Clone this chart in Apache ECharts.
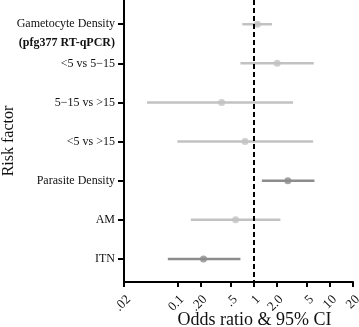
<!DOCTYPE html>
<html>
<head>
<meta charset="utf-8">
<script src="https://cdn.jsdelivr.net/npm/echarts@6/dist/echarts.min.js"></script>
<style>
  html, body { margin: 0; padding: 0; background: #fff; }
  #chart { width: 359px; height: 327px; }
</style>
</head>
<body>
<div id="chart"></div>
<script>
// rows, top to bottom
const categories = ['Gametocyte Density', '<5 vs 5\u221215', '5\u221215 vs >15', '<5 vs >15', 'Parasite Density', 'AM', 'ITN'];
const subLabel = '(pfg377 RT-qPCR)';
const oddsRatio = [1.12, 2.03, 0.38, 0.77, 2.80, 0.58, 0.22];
const ciLow = [0.71, 0.67, 0.04, 0.10, 1.28, 0.15, 0.075];
const ciHigh = [1.74, 6.12, 3.28, 6.0, 6.25, 2.24, 0.67];
const rowShade = ['light', 'light', 'light', 'light', 'dark', 'light', 'dark'];

const xTicks = [0.02, 0.1, 0.2, 0.5, 1, 2, 5, 10, 20];
const xTickLabels = ['.02', '0.1', '.20', '.5', '1', '2.0', '5', '10', '20'];

const shadeColor = { light: '#c2c2c2', dark: '#8c8c8c' };
const font = 'Liberation Serif';

const rowIdx = categories.map((_, i) => i);
const SUB_POS = 0.486; // second line of first row label

const chart = echarts.init(document.getElementById('chart'));

const ciData = rowIdx.map(i => ({
  value: [i, ciLow[i], ciHigh[i]],
  itemStyle: { color: shadeColor[rowShade[i]] }
}));
const pointData = rowIdx.map(i => ({
  value: [oddsRatio[i], i],
  itemStyle: { color: shadeColor[rowShade[i]] }
}));

function xLabel(v) {
  for (let k = 0; k < xTicks.length; k++) {
    if (Math.abs(v - xTicks[k]) / xTicks[k] < 1e-6) return xTickLabels[k];
  }
  return '';
}

const option = {
  animation: false,
  grid: { left: 124, right: 6, top: 0, bottom: 45, containLabel: false, outerBoundsMode: 'none' },
  xAxis: {
    type: 'log',
    logBase: 10,
    min: 0.02,
    max: 20,
    name: 'Odds ratio & 95% CI',
    nameLocation: 'middle',
    nameGap: 29,
    nameMoveOverlap: false,
    nameTextStyle: { fontFamily: font, fontSize: 18, color: '#111', padding: [0, 0, 0, 32] },
    axisLine: { onZero: false, lineStyle: { color: '#000', width: 2 } },
    axisTick: { show: true, length: 5, lineStyle: { color: '#000', width: 2 }, customValues: xTicks },
    axisLabel: {
      customValues: xTicks,
      rotate: 45,
      margin: 11,
      verticalAlign: 'top',
      fontFamily: font,
      fontSize: 13,
      color: '#111',
      formatter: v => xLabel(v)
    },
    splitLine: { show: false }
  },
  yAxis: {
    type: 'value',
    inverse: true,
    min: -0.62,
    max: 6.59,
    name: 'Risk factor',
    nameLocation: 'middle',
    nameGap: 107,
    nameMoveOverlap: false,
    nameTextStyle: { fontFamily: font, fontSize: 16, color: '#111' },
    axisLine: { show: true, onZero: false, lineStyle: { color: '#000', width: 2 } },
    axisTick: { show: true, length: 6, lineStyle: { color: '#000', width: 2 }, customValues: rowIdx },
    axisLabel: {
      customValues: [0, SUB_POS, 1, 2, 3, 4, 5, 6],
      margin: 9,
      fontFamily: font,
      fontSize: 12,
      color: '#111',
      formatter: v => {
        if (Math.abs(v - SUB_POS) < 1e-6) return '{b|' + subLabel + '}';
        return categories[Math.round(v)] || '';
      },
      rich: {
        b: { fontFamily: font, fontSize: 12, fontWeight: 'bold', color: '#111' }
      }
    },
    splitLine: { show: false }
  },
  series: [
    {
      type: 'custom',
      name: 'CI',
      coordinateSystem: 'cartesian2d',
      dimensions: ['row', 'low', 'high'],
      encode: { x: [1, 2], y: 0 },
      data: ciData,
      renderItem: (params, api) => {
        const y = api.value(0);
        const a = api.coord([api.value(1), y]);
        const b = api.coord([api.value(2), y]);
        return {
          type: 'line',
          shape: { x1: a[0], y1: a[1], x2: b[0], y2: b[1] },
          style: { stroke: api.visual('color'), lineWidth: 2.5 }
        };
      },
      z: 2
    },
    {
      type: 'scatter',
      name: 'OR',
      symbol: 'circle',
      symbolSize: 7,
      data: pointData,
      z: 3,
      markLine: {
        silent: true,
        symbol: 'none',
        label: { show: false },
        lineStyle: { color: '#000', width: 2, type: [5, 3] },
        data: [{ xAxis: 1 }]
      }
    }
  ]
};

chart.setOption(option);
</script>
</body>
</html>
